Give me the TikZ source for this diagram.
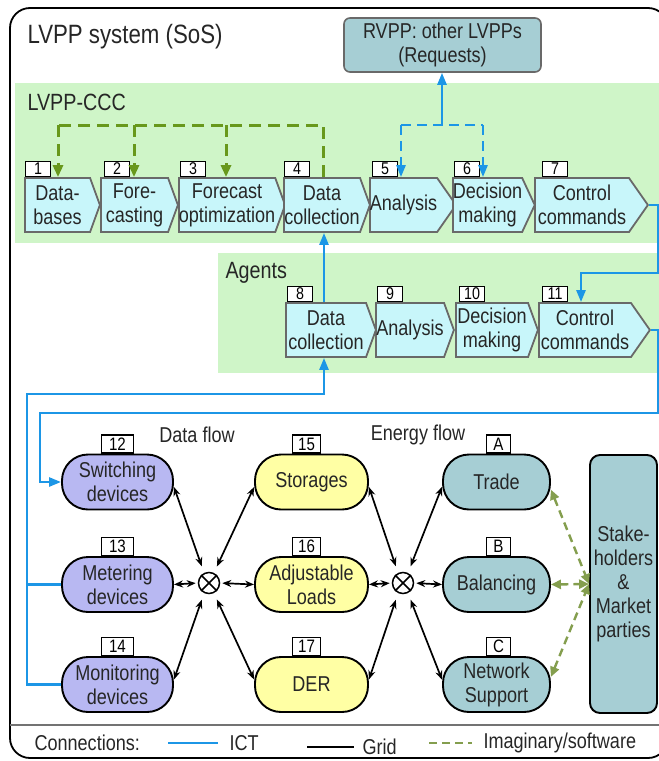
\documentclass[tikz,border=0pt]{standalone}
\usepackage{fontspec}
\setmainfont{Liberation Sans}[FakeStretch=0.84]
\usepackage{tikz}
\usetikzlibrary{positioning, arrows.meta, shapes.symbols, calc}

\definecolor{bandgreen}{RGB}{207,245,200}
\definecolor{chevfill}{RGB}{200,246,250}
\definecolor{chevline}{RGB}{105,105,105}
\definecolor{ictblue}{RGB}{28,150,230}
\definecolor{softgreen}{RGB}{104,152,28}
\definecolor{softolive}{RGB}{132,158,78}
\definecolor{devpurple}{RGB}{184,184,242}
\definecolor{resyellow}{RGB}{255,255,164}
\definecolor{mktteal}{RGB}{166,206,212}

\begin{document}
\begin{tikzpicture}[x=1pt, y=-1pt,
    txt/.style={font=\fontsize{21.5}{24}\selectfont, align=center, text=black!85},
    chev/.style={signal, signal to=east, signal from=nowhere, signal pointer angle=140,
                 draw=chevline, fill=chevfill, line width=1.8pt, minimum height=54,
                 inner xsep=0pt, inner ysep=1pt, anchor=west, txt},
    longtip/.style={signal pointer angle=110},
    num/.style={rectangle, draw=black, fill=white, line width=1.2pt, inner sep=0pt,
                minimum width=25, minimum height=15, font=\fontsize{17}{17}\selectfont},
    numb/.style={num, minimum width=28, minimum height=18, font=\fontsize{18}{18}\selectfont},
    pill/.style={rectangle, rounded corners=26, draw=black, line width=1.9pt,
                 minimum width=111, minimum height=55, txt},
    junc/.style={circle, draw=black, line width=1.5pt, minimum size=21, inner sep=0pt},
    head/.style={font=\fontsize{23.5}{27}\selectfont, anchor=west, text=black!85},
    ict/.style={ictblue, line width=2.5pt},
    ictarrow/.style={ict, -{Triangle[length=12, width=9]}},
    icdash/.style={dash pattern=on 10pt off 6pt},
    soft/.style={softgreen, line width=3pt, dash pattern=on 12pt off 7pt},
    softarrow/.style={soft, -{Triangle[length=12, width=10]}},
    gridline/.style={{Stealth[length=9, width=7]}-{Stealth[length=9, width=7]}, line width=1.7pt},
    imag/.style={softolive, line width=2.4pt, dash pattern=on 8pt off 5pt,
                 {Triangle[length=10, width=9]}-{Triangle[length=10, width=9]}}
]

    % Frame
    \useasboundingbox (0,0) rectangle (659,761);
    \draw[line width=1.8pt, rounded corners=20] (10,8) rectangle (668,758);
    \node[head, font=\fontsize{26.5}{30}\selectfont] (title) at (24,37) {LVPP system (SoS)};

    % Bands
    \fill[bandgreen] (15,83) rectangle (659,243);
    \fill[bandgreen] (218,253) rectangle (659,373);
    \node[head] (ccclbl) at (24,102) {LVPP-CCC};
    \node[head] (agtlbl) at (222,273) {Agents};

    % RVPP
    \node[rectangle, rounded corners=6, draw=chevline, fill=mktteal, line width=1.6pt,
          minimum width=197, minimum height=54, txt] (rvpp) at (442.5,45) {RVPP: other LVPPs\\(Requests)};

    % LVPP-CCC chain
    \node[chev, minimum width=75] (c1) at (24,205) {Data-\\bases};
    \node[chev, minimum width=77] (c2) at (100,205) {Fore-\\casting};
    \node[chev, minimum width=104] (c3) at (178,205) {Forecast\\optimization};
    \node[chev, minimum width=86] (c4) at (283,205) {Data\\collection};
    \node[chev, longtip, minimum width=82] (c5) at (369,205) {Analysis};
    \node[chev, signal pointer angle=130, minimum width=81] (c6) at (452,205) {Decision\\making};
    \node[chev, longtip, minimum width=113] (c7) at (534,205) {Control\\commands};

    % Agents chain
    \node[chev, minimum width=90] (c8) at (285,330) {Data\\collection};
    \node[chev, minimum width=78] (c9) at (375,330) {Analysis};
    \node[chev, minimum width=82] (c10) at (455,330) {Decision\\making};
    \node[chev, longtip, minimum width=111] (c11) at (538,330) {Control\\commands};

    % Step numbers
    \node[num, anchor=south west] (n1) at ([xshift=1pt]c1.north west) {1};
    \node[num, anchor=south west] (n2) at ([xshift=4pt]c2.north west) {2};
    \node[num, anchor=south west] (n3) at ([xshift=2pt]c3.north west) {3};
    \node[num, anchor=south west] (n4) at ([xshift=1pt]c4.north west) {4};
    \node[num, anchor=south west] (n5) at ([xshift=3pt]c5.north west) {5};
    \node[num, anchor=south west] (n6) at ([xshift=2pt]c6.north west) {6};
    \node[num, anchor=south west] (n7) at ([xshift=8pt]c7.north west) {7};
    \node[num, anchor=south west] (n8) at ([xshift=2pt]c8.north west) {8};
    \node[num, anchor=south west] (n9) at ([xshift=2pt]c9.north west) {9};
    \node[num, anchor=south west] (n10) at ([xshift=4pt]c10.north west) {10};
    \node[num, anchor=south west] (n11) at ([xshift=4pt]c11.north west) {11};

    % Devices, resources, services
    \node[pill, fill=devpurple] (sw) at (117.5,482) {Switching\\devices};
    \node[pill, fill=devpurple] (me) at (117.5,584.5) {Metering\\devices};
    \node[pill, fill=devpurple] (mo) at (117.5,684.5) {Monitoring\\devices};
    \node[pill, fill=resyellow, minimum width=113] (st) at (311.5,482) {Storages};
    \node[pill, fill=resyellow, minimum width=113] (al) at (311.5,584.5) {Adjustable\\Loads};
    \node[pill, fill=resyellow, minimum width=113] (der) at (311.5,684.5) {DER};
    \node[pill, fill=mktteal, minimum width=107] (tr) at (496.5,482) {Trade};
    \node[pill, fill=mktteal, minimum width=107] (ba) at (496.5,584.5) {Balancing};
    \node[pill, fill=mktteal, minimum width=107] (ns) at (496.5,684.5) {Network\\Support};
    \node[rectangle, rounded corners=10, draw=black, line width=1.9pt, fill=mktteal,
          minimum width=67, minimum height=258, txt] (sh) at (623.5,584) {Stake-\\holders\\\&\\Market\\parties};

    \node[numb, anchor=south, minimum width=32] (n12) at (sw.north) {12};
    \node[numb, anchor=south, minimum width=32] (n13) at (me.north) {13};
    \node[numb, anchor=south, minimum width=32] (n14) at (mo.north) {14};
    \node[numb, anchor=south] (n15) at ([xshift=-5pt]st.north) {15};
    \node[numb, anchor=south] (n16) at ([xshift=-5pt]al.north) {16};
    \node[numb, anchor=south] (n17) at ([xshift=-5pt]der.north) {17};
    \node[numb, anchor=south, minimum width=24] (na) at ([xshift=2pt]tr.north) {A};
    \node[numb, anchor=south, minimum width=24] (nb) at ([xshift=2pt]ba.north) {B};
    \node[numb, anchor=south, minimum width=24] (nc) at ([xshift=2pt]ns.north) {C};

    \node[txt] (dflow) at (197,435) {Data flow};
    \node[txt] (eflow) at (418,435) {Energy flow};

    % Grid junctions
    \node[junc] (xl) at (209,583) {};
    \node[junc] (xr) at (403,583) {};
    \draw[line width=1.5pt] (xl.north west) -- (xl.south east) (xl.north east) -- (xl.south west);
    \draw[line width=1.5pt] (xr.north west) -- (xr.south east) (xr.north east) -- (xr.south west);

    \draw[gridline, shorten >=7pt] (sw.-5) -- (xl.116);
    \draw[gridline, shorten >=7pt] (st.185) -- (xl.64);
    \draw[gridline, shorten >=2pt] (me.east) -- (xl.west);
    \draw[gridline, shorten >=2pt] (al.west) -- (xl.east);
    \draw[gridline, shorten >=7pt] (mo.5) -- (xl.244);
    \draw[gridline, shorten >=7pt] (der.175) -- (xl.296);
    \draw[gridline, shorten >=7pt] (st.-5) -- (xr.116);
    \draw[gridline, shorten >=7pt] (tr.185) -- (xr.64);
    \draw[gridline, shorten >=2pt] (al.east) -- (xr.west);
    \draw[gridline, shorten >=2pt] (ba.west) -- (xr.east);
    \draw[gridline, shorten >=7pt] (der.5) -- (xr.244);
    \draw[gridline, shorten >=7pt] (ns.175) -- (xr.296);

    % Market links
    \draw[imag] (tr.-8) -- (sh.west);
    \draw[imag] (ba.east) -- (sh.west);
    \draw[imag] (ns.8) -- (sh.west);

    % Software links in the CCC
    \coordinate (g1) at (58,125);
    \coordinate (g2) at (134,125);
    \coordinate (g3) at (226,125);
    \coordinate (g4) at (323,125);
    \draw[soft] (g4 |- c4.north) -- (g4) -- (g1);
    \draw[softarrow] (g1) -- (g1 |- c1.north);
    \draw[softarrow] (g2) -- (g2 |- c2.north);
    \draw[softarrow] (g3) -- (g3 |- c3.north);

    % Requests
    \coordinate (bj) at (442,125);
    \coordinate (b5) at (401,125);
    \coordinate (b6) at (483,125);
    \draw[ictarrow] (bj) -- (bj |- rvpp.south);
    \draw[ict, icdash] (b5) -- (b6);
    \draw[ictarrow, icdash] (b5) -- (b5 |- c5.north);
    \draw[ictarrow, icdash] (b6) -- (b6 |- c6.north);

    % ICT links
    \coordinate (ax) at (324,394);
    \coordinate (ml) at (27,394);
    \coordinate (r1) at (658,273);
    \coordinate (r2) at (658,413);
    \coordinate (k11) at (581,273);
    \coordinate (l2) at (40,413);
    \draw[ictarrow] (ax |- c8.north) -- (ax |- c4.south);
    \draw[ictarrow] (mo.west) -- (mo.west -| ml) -- (ml) -- (ax) -- (ax |- c8.south);
    \draw[ict] (me.west) -- (me.west -| ml);
    \draw[ictarrow] (c7.east) -| (r1) -- (k11) -- (k11 |- c11.north);
    \draw[ictarrow] (c11.east) -| (r2) -- (l2) -- (l2 |- sw.west) -- (sw.west);

    % Legend
    \draw[line width=1.5pt, black!55] (10,725) -- (668,725);
    \node[txt, anchor=west] (legend) at (31,743) {Connections:};
    \node[txt, anchor=west] (ictlbl) at (226,743) {ICT};
    \node[txt, anchor=west] (gridlbl) at (359,747) {Grid};
    \node[txt, anchor=west] (imaglbl) at (480,743) {Imaginary/software};
    \draw[ict] ([xshift=-58pt]ictlbl.west) -- ([xshift=-8pt]ictlbl.west);
    \draw[line width=2pt] ([xshift=-52pt]gridlbl.west) -- ([xshift=-5pt]gridlbl.west);
    \draw[softolive, line width=2.2pt, dash pattern=on 8pt off 5pt] ([xshift=-51pt]imaglbl.west) -- ([xshift=-8pt]imaglbl.west);

\end{tikzpicture}
\end{document}
